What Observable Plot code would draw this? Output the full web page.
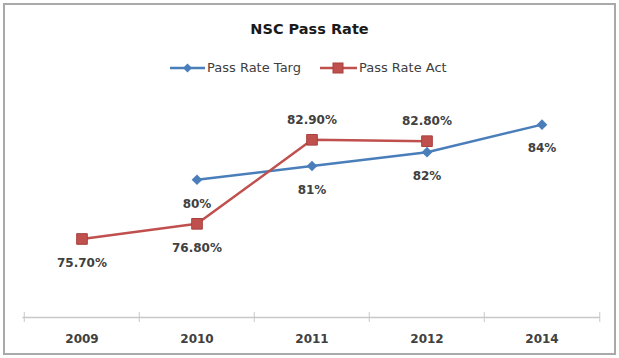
<!DOCTYPE html>
<html>
<head>
<meta charset="utf-8">
<script src="https://cdn.jsdelivr.net/npm/d3@7"></script>
<script src="https://cdn.jsdelivr.net/npm/@observablehq/plot@0.6"></script>
<style>
  html, body { margin: 0; padding: 0; background: #fff; }
  #page { position: relative; width: 619px; height: 358px; overflow: hidden; background: #fff; }
  #frame { position: absolute; left: 3px; top: 3px; width: 609px; height: 348px; border: 2px solid #a9a9a9; }
  #title { position: absolute; left: 0; top: 19px; width: 619px; text-align: center;
           font: bold 14.5px "DejaVu Sans", sans-serif; color: #1a1a1a; line-height: 20px; }
  #legend { position: absolute; left: 170px; top: 59px; display: flex; align-items: center;
            font: 13px "DejaVu Sans", sans-serif; color: #404040; line-height: 18px; }
  .item { display: flex; align-items: center; }
  .item svg { margin-right: 2px; }
  #chart { position: absolute; left: 0; top: 85px; }
</style>
</head>
<body>
<div id="page">
  <div id="frame"></div>
  <div id="title"></div>
  <div id="legend"></div>
  <div id="chart"></div>
</div>
<script>
const title = "NSC Pass Rate";
const categories = ["2009", "2010", "2011", "2012", "2014"];
const seriesNames = ["Pass Rate Targ", "Pass Rate Act"];
const targetValues = [null, 80, 81, 82, 84];
const actualValues = [75.7, 76.8, 82.9, 82.8, null];
const targetLabels = [null, "80%", "81%", "82%", "84%"];
const actualLabels = ["75.70%", "76.80%", "82.90%", "82.80%", null];

const blue = "#4a7ebb";
const red = "#c0504d";

document.getElementById("title").textContent = title;

// legend
const legend = document.getElementById("legend");
const swatches = [
  `<svg width="35" height="12"><line x1="0" y1="6" x2="35" y2="6" stroke="${blue}" stroke-width="2.5"/><path d="M17.5 1.5 L22 6 L17.5 10.5 L13 6 Z" fill="${blue}"/></svg>`,
  `<svg width="37" height="12"><line x1="0" y1="6" x2="37" y2="6" stroke="${red}" stroke-width="2.5"/><rect x="13" y="1" width="10" height="10" fill="${red}" stroke="#a8403d"/></svg>`
];
seriesNames.forEach((name, i) => {
  const it = document.createElement("div");
  it.className = "item";
  if (i > 0) it.style.marginLeft = "19px";
  it.innerHTML = swatches[i] + `<span>${name}</span>`;
  legend.appendChild(it);
});

const targetRows = categories.map((c, i) => ({c, v: targetValues[i], label: targetLabels[i]})).filter(d => d.v != null);
const actualRows = categories.map((c, i) => ({c, v: actualValues[i], label: actualLabels[i], t: targetValues[i]})).filter(d => d.v != null);
const actualAbove = actualRows.filter(d => d.t != null && d.v > d.t);
const actualBelow = actualRows.filter(d => !(d.t != null && d.v > d.t));

const W = 619, H = 260, mL = 22.5, mR = 19, mT = 11.6, mB = 28;
const halfBand = (W - mL - mR) / categories.length / 2;

const chart = Plot.plot({
  width: W,
  height: H,
  marginLeft: mL,
  marginRight: mR,
  marginTop: mT,
  marginBottom: mB,
  style: {fontFamily: "DejaVu Sans, sans-serif", fontSize: "12px", fontWeight: "bold", color: "#404040", background: "transparent"},
  x: {type: "band", domain: categories, padding: 0, tickSize: 0, tickPadding: 17, label: null},
  y: {domain: [70, 86], axis: null},
  marks: [
    Plot.ruleY([70], {stroke: "#c8c8c8", strokeWidth: 1.5}),
    Plot.ruleX(categories, {x: d => d, y1: 70, y2: 70, dx: -halfBand, insetTop: -5, insetBottom: -5, stroke: "#c8c8c8", strokeWidth: 1}),
    Plot.ruleX(categories.slice(-1), {x: d => d, y1: 70, y2: 70, dx: halfBand, insetTop: -5, insetBottom: -5, stroke: "#c8c8c8", strokeWidth: 1}),
    Plot.line(targetRows, {x: "c", y: "v", stroke: blue, strokeWidth: 2.5}),
    Plot.dot(targetRows, {x: "c", y: "v", symbol: "diamond2", r: 4.8, fill: blue, stroke: "none"}),
    Plot.line(actualRows, {x: "c", y: "v", stroke: red, strokeWidth: 2.5}),
    Plot.dot(actualRows, {x: "c", y: "v", symbol: "square", r: 6, fill: red, stroke: "#a8403d", strokeWidth: 1}),
    Plot.text(targetRows, {x: "c", y: "v", text: "label", dy: 24, fill: "#404040"}),
    Plot.text(actualBelow, {x: "c", y: "v", text: "label", dy: 24, fill: "#404040"}),
    Plot.text(actualAbove, {x: "c", y: "v", text: "label", dy: -20, fill: "#404040"})
  ]
});
document.getElementById("chart").appendChild(chart);
</script>
</body>
</html>
